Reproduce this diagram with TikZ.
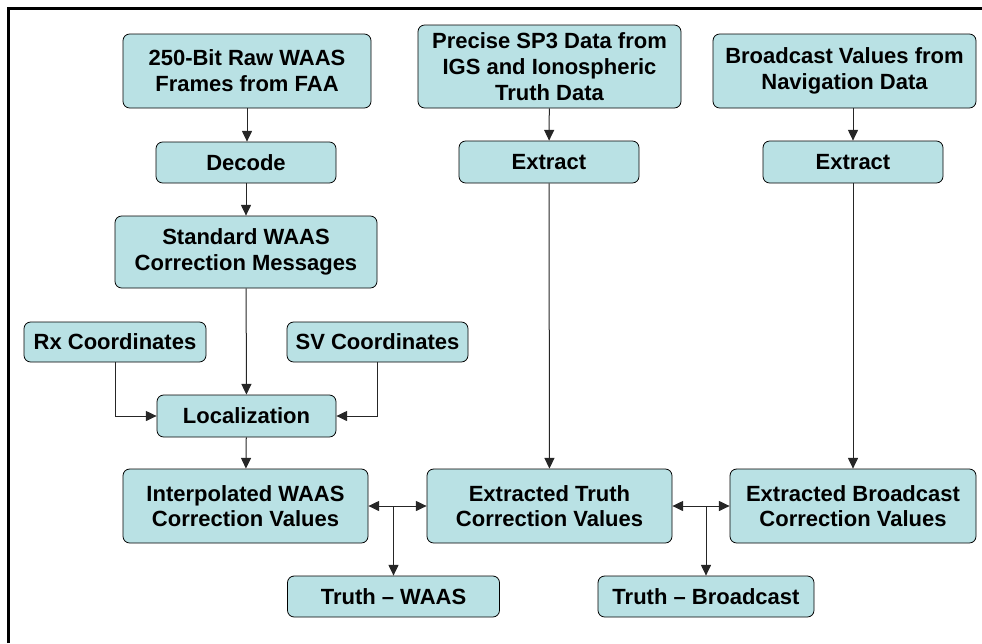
\documentclass[tikz,border=0pt]{standalone}
\usepackage{fontspec}
\setmainfont{Liberation Sans}
\usetikzlibrary{arrows.meta}

\definecolor{boxfill}{RGB}{185,225,228}

\tikzset{
    block/.style={draw=black, line width=0.6pt, fill=boxfill, rounded corners=5pt,
                  align=center, inner sep=0pt,
                  font=\fontsize{16.5pt}{19.3pt}\selectfont\bfseries},
    flow/.style={draw=black!85, line width=0.75pt, -{Triangle[length=8pt,width=7.5pt]}},
    twoway/.style={flow, {Triangle[length=8pt,width=7.5pt]}-{Triangle[length=8pt,width=7.5pt]}}
}

\begin{document}
\begin{tikzpicture}[x=0.75pt, y=-0.75pt]

        \useasboundingbox (0,0) rectangle (982,643);

        % frame
            \draw[line width=2.25pt] (8,643) -- (8,8) -- (982,8);

        % WAAS column
            \node[block, minimum width=186pt, minimum height=55.5pt] (raw) at (247,71) {250-Bit Raw WAAS\\Frames from FAA};
            \node[block, minimum width=135pt, minimum height=30.75pt] (decode) at (246,162.5) {Decode};
            \node[block, minimum width=196.5pt, minimum height=54pt] (std) at (246,252) {Standard WAAS\\Correction Messages};
            \node[block, minimum width=136.5pt, minimum height=30pt] (rx) at (115,342) {Rx Coordinates};
            \node[block, minimum width=135.75pt, minimum height=30pt] (sv) at (377.5,342) {SV Coordinates};
            \node[block, minimum width=134.25pt, minimum height=31.5pt] (loc) at (246.5,416) {Localization};
            \node[block, minimum width=183.75pt, minimum height=55.5pt] (interp) at (245.5,506) {Interpolated WAAS\\Correction Values};

        % truth column
            \node[block, minimum width=197.25pt, minimum height=62.25pt] (sp3) at (549.5,66.5) {Precise SP3 Data from\\IGS and Ionospheric\\Truth Data};
            \node[block, minimum width=135pt, minimum height=31.5pt] (ext1) at (549,162) {Extract};
            \node[block, minimum width=183.75pt, minimum height=55.5pt] (truth) at (549.5,506) {Extracted Truth\\Correction Values};

        % broadcast column
            \node[block, minimum width=197.25pt, minimum height=55.5pt] (bvnav) at (844.5,71) {Broadcast Values from\\Navigation Data};
            \node[block, minimum width=135pt, minimum height=31.5pt] (ext2) at (853,162) {Extract};
            \node[block, minimum width=184.5pt, minimum height=55.5pt] (bcval) at (853,506) {Extracted Broadcast\\Correction Values};

        % differences
            \node[block, minimum width=159pt, minimum height=30.75pt] (twaas) at (393.5,596.5) {Truth -- WAAS};
            \node[block, minimum width=162pt, minimum height=30.75pt] (tbc) at (706,596.5) {Truth -- Broadcast};

        % connectors
            \draw[flow] (raw.south) -- (raw.south |- decode.north);
            \draw[flow] (decode) -- (std);
            \draw[flow] (std) -- (loc);
            \draw[flow] (rx.south) |- (loc.west);
            \draw[flow] (sv.south) |- (loc.east);
            \draw[flow] (loc) -- (interp);

            \draw[flow] (sp3) -- (ext1);
            \draw[flow] (ext1) -- (truth);

            \draw[flow] (ext2.north |- bvnav.south) -- (ext2.north);
            \draw[flow] (ext2) -- (bcval);

            \draw[twoway] (interp.east) -- (truth.west);
            \draw[twoway] (truth.east) -- (bcval.west);
            \coordinate (j1) at (twaas.north |- interp.east);
            \coordinate (j2) at (tbc.north |- truth.east);
            \draw[flow] (j1) -- (twaas.north);
            \draw[flow] (j2) -- (tbc.north);

        \end{tikzpicture}
\end{document}
